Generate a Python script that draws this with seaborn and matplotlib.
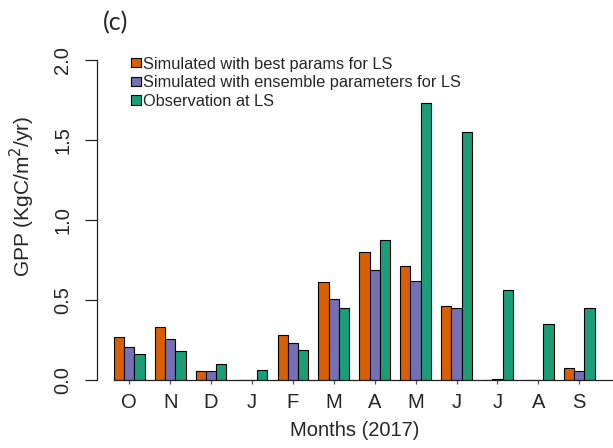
import numpy as np
import pandas as pd
import matplotlib
matplotlib.use("Agg")
import matplotlib.pyplot as plt
from matplotlib.patches import Patch
import seaborn as sns

# Monthly GPP at LS, Oct 2016 - Sep 2017
periods = ["2016-10", "2016-11", "2016-12", "2017-01", "2017-02", "2017-03",
           "2017-04", "2017-05", "2017-06", "2017-07", "2017-08", "2017-09"]
month_labels = ["O", "N", "D", "J", "F", "M", "A", "M", "J", "J", "A", "S"]

best_params = [0.27, 0.33, 0.054, 0.0, 0.28, 0.61, 0.80, 0.71, 0.463, 0.003, 0.002, 0.075]
ensemble_params = [0.205, 0.255, 0.054, 0.0, 0.23, 0.507, 0.685, 0.62, 0.447, 0.008, 0.002, 0.056]
observation = [0.16, 0.18, 0.10, 0.062, 0.19, 0.45, 0.877, 1.73, 1.547, 0.565, 0.35, 0.449]

series_names = ["Simulated with best params for LS",
                "Simulated with ensemble parameters for LS",
                "Observation at LS"]
series_colors = ["#D95F02", "#7570B3", "#1B9E77"]

df = pd.concat([
    pd.DataFrame({"period": periods, "gpp": vals, "series": name})
    for name, vals in zip(series_names, [best_params, ensemble_params, observation])
], ignore_index=True)

sns.set_style("white")
plt.rcParams["font.family"] = ["Liberation Sans", "DejaVu Sans"]

W, H = 613, 448
fig = plt.figure(figsize=(W / 100, H / 100), dpi=100)
# axes: y=0 at row 380, y=2 at row 60, left spine at column 97
ax = fig.add_axes([97 / W, (H - 380) / H, (W - 97) / W, 320 / H])

sns.barplot(data=df, x="period", y="gpp", hue="series", order=periods,
            hue_order=series_names, palette=series_colors, width=0.75,
            dodge=True, saturation=1, errorbar=None, edgecolor="black",
            linewidth=0.8, legend=False, ax=ax)

px_per_group = 40.9
x0_px = 129.3
ax.set_xlim((97 - x0_px) / px_per_group, (W - x0_px) / px_per_group)
ax.set_ylim(0, 2.0)

for side in ["top", "right"]:
    ax.spines[side].set_visible(False)
ax.spines["left"].set_bounds(0, 2.0)
ax.spines["bottom"].set_bounds(-0.375, ax.get_xlim()[1])
for side in ["left", "bottom"]:
    ax.spines[side].set_color("#222222")
    ax.spines[side].set_linewidth(0.9)

ax.set_yticks([0.0, 0.5, 1.0, 1.5, 2.0])
ax.set_yticklabels(["0.0", "0.5", "1.0", "1.5", "2.0"])
ax.set_xticks(range(len(periods)))
ax.set_xticklabels(month_labels)
ax.tick_params(axis="y", length=8.6, width=0.9, color="#222222", pad=16,
               labelsize=14.5, left=True)
ax.tick_params(axis="x", length=3, width=0.9, color="#555555", pad=6.5,
               labelsize=14.5, bottom=True)
for lab in ax.get_yticklabels():
    lab.set_rotation(90)
    lab.set_va("center")
    lab.set_ha("center")
ax.set_xlabel("")
ax.set_ylabel("")

fig.text(22 / W, 1 - 196 / H, "GPP (KgC/m$^2$/yr)", rotation=90,
         ha="center", va="center", fontsize=15)
fig.text(355 / W, 1 - 430 / H, "Months (2017)", ha="center", va="center",
         fontsize=14.5)
fig.text(116 / W, 1 - 23 / H, "(c)", ha="center", va="center", fontsize=18,
         family=["Lato", "DejaVu Sans"])

handles = [Patch(facecolor=c, edgecolor="black", linewidth=0.8) for c in series_colors]
ax.legend(handles, series_names, loc="upper left",
          bbox_to_anchor=(131 / W, 1 - 56.5 / H), bbox_transform=fig.transFigure,
          frameon=False, fontsize=11.8, handlelength=0.62, handleheight=0.5,
          handletextpad=0.13, labelspacing=0.22, borderpad=0, borderaxespad=0)

fig.savefig("out.png", dpi=100)
